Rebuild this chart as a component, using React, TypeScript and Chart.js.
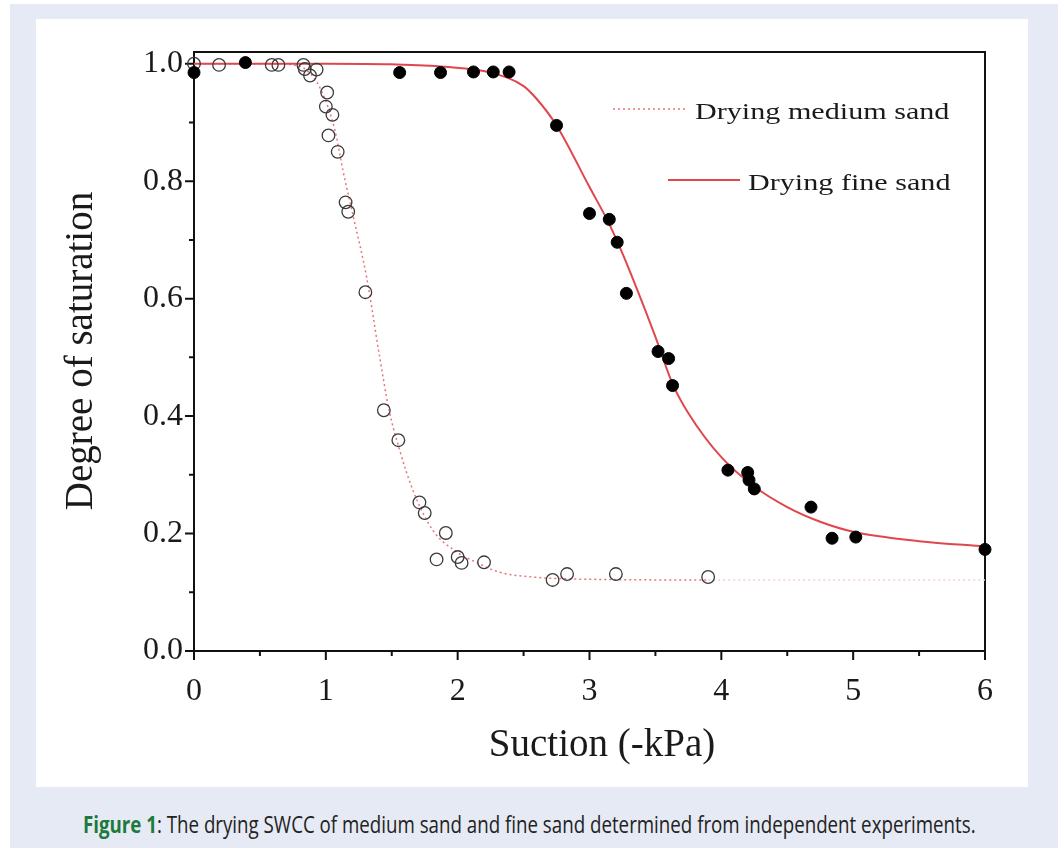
import React, { useEffect, useRef } from "react";
import { Chart, registerables } from "chart.js";

Chart.register(...registerables);

// Drying medium sand: measured points (suction in -kPa, degree of saturation)
const mediumSuction = [0, 0.19, 0.59, 0.64, 0.83, 0.84, 0.88, 0.93, 1.01, 1.0, 1.05, 1.02, 1.09, 1.15, 1.17, 1.3, 1.44, 1.55, 1.71, 1.75, 1.91, 1.84, 2.0, 2.03, 2.2, 2.72, 2.83, 3.2, 3.9];
const mediumSaturation = [1.0, 0.998, 0.998, 0.998, 0.998, 0.991, 0.98, 0.99, 0.951, 0.927, 0.913, 0.878, 0.85, 0.764, 0.748, 0.611, 0.41, 0.359, 0.253, 0.235, 0.201, 0.156, 0.16, 0.15, 0.151, 0.121, 0.131, 0.131, 0.126];

// Drying medium sand: fitted curve
const mediumFitSuction = [0, 0.6, 0.75, 0.85, 0.96, 1.07, 1.13, 1.21, 1.31, 1.4, 1.48, 1.56, 1.66, 1.81, 1.97, 2.15, 2.32, 2.57, 3.03, 3.9, 6.0];
const mediumFitSaturation = [1.0, 1.0, 0.998, 0.99, 0.957, 0.886, 0.818, 0.738, 0.636, 0.512, 0.41, 0.342, 0.274, 0.206, 0.172, 0.15, 0.134, 0.126, 0.122, 0.121, 0.121];

// Drying fine sand: measured points
const fineSuction = [0, 0.39, 1.56, 1.87, 2.12, 2.27, 2.39, 2.75, 3.0, 3.15, 3.21, 3.28, 3.52, 3.6, 3.63, 4.05, 4.2, 4.21, 4.25, 4.68, 4.84, 5.02, 6.0];
const fineSaturation = [0.985, 1.002, 0.985, 0.985, 0.986, 0.986, 0.986, 0.895, 0.745, 0.735, 0.696, 0.609, 0.51, 0.498, 0.452, 0.308, 0.304, 0.291, 0.276, 0.245, 0.192, 0.194, 0.173];

// Drying fine sand: fitted curve
const fineFitSuction = [0, 1.0, 1.5, 1.9, 2.25, 2.5, 2.6, 2.75, 3.0, 3.15, 3.25, 3.5, 3.63, 3.75, 4.0, 4.25, 4.5, 4.75, 5.0, 5.5, 6.0];
const fineFitSaturation = [1.0, 1.0, 0.999, 0.995, 0.985, 0.962, 0.94, 0.895, 0.79, 0.727, 0.677, 0.535, 0.455, 0.405, 0.33, 0.28, 0.245, 0.22, 0.203, 0.187, 0.178];

const xTicks = [0, 1, 2, 3, 4, 5, 6];
const xMinorTicks = [0.5, 1.5, 2.5, 3.5, 4.5, 5.5];
const yTicks = [0, 0.2, 0.4, 0.6, 0.8, 1.0];
const yMinorTicks = [0.1, 0.3, 0.5, 0.7, 0.9];

const legendLabels = ["Drying medium sand", "Drying fine sand"];
const xTitle = "Suction (-kPa)";
const yTitle = "Degree of saturation";
const captionLead = "Figure 1";
const captionRest = ": The drying SWCC of medium sand and fine sand determined from independent experiments.";

const SERIF = "'Liberation Serif', 'Times New Roman', serif";
const FIT_RED = "#e0474d";
const MEDIUM_PINK = "#e8747d";
const MEDIUM_TAIL = "#f1d2d5";

const zip = (xs: number[], ys: number[]) => xs.map((x, i) => ({ x, y: ys[i] }));

// Frame, tick marks, axis titles and the in-plot legend
const decorPlugin = {
  id: "decor",
  beforeDatasetsDraw(chart: any) {
    const { ctx, chartArea: a, scales } = chart;
    const x = scales.x;
    const y = scales.y;
    ctx.save();
    ctx.strokeStyle = "#111";
    ctx.lineWidth = 2;
    ctx.strokeRect(a.left, a.top, a.right - a.left, a.bottom - a.top);
    ctx.beginPath();
    xTicks.forEach((v) => {
      const px = x.getPixelForValue(v);
      ctx.moveTo(px, a.bottom);
      ctx.lineTo(px, a.bottom + 9);
    });
    xMinorTicks.forEach((v) => {
      const px = x.getPixelForValue(v);
      ctx.moveTo(px, a.bottom);
      ctx.lineTo(px, a.bottom + 5);
    });
    yTicks.forEach((v) => {
      const py = y.getPixelForValue(v);
      ctx.moveTo(a.left, py);
      ctx.lineTo(a.left - 9, py);
    });
    yMinorTicks.forEach((v) => {
      const py = y.getPixelForValue(v);
      ctx.moveTo(a.left, py);
      ctx.lineTo(a.left - 5, py);
    });
    ctx.stroke();
    ctx.restore();
  },
  afterDraw(chart: any) {
    const { ctx } = chart;
    ctx.save();
    ctx.fillStyle = "#1a1a1a";
    ctx.font = `39px ${SERIF}`;
    ctx.textAlign = "center";
    ctx.textBaseline = "middle";
    ctx.fillText(xTitle, 566, 727);
    ctx.save();
    ctx.translate(46, 332);
    ctx.rotate(-Math.PI / 2);
    ctx.fillText(yTitle, 0, 0);
    ctx.restore();

    // legend samples
    ctx.lineWidth = 1.5;
    ctx.strokeStyle = MEDIUM_PINK;
    ctx.setLineDash([2, 3]);
    ctx.beginPath();
    ctx.moveTo(577, 90);
    ctx.lineTo(652, 90);
    ctx.stroke();
    ctx.setLineDash([]);
    ctx.lineWidth = 2;
    ctx.strokeStyle = FIT_RED;
    ctx.beginPath();
    ctx.moveTo(632, 161);
    ctx.lineTo(704, 161);
    ctx.stroke();

    // legend labels, set in a wide serif face
    ctx.font = `23px ${SERIF}`;
    ctx.textAlign = "left";
    ctx.textBaseline = "alphabetic";
    const rows = [
      { text: legendLabels[0], x: 659, y: 100 },
      { text: legendLabels[1], x: 712, y: 171 },
    ];
    rows.forEach((r) => {
      ctx.save();
      ctx.translate(r.x, r.y);
      ctx.scale(1.31, 1);
      ctx.fillText(r.text, 0, 0);
      ctx.restore();
    });
    ctx.restore();
  },
};

export default function App() {
  const canvasRef = useRef<HTMLCanvasElement>(null);
  const captionRef = useRef<HTMLSpanElement>(null);

  useEffect(() => {
    const chart = new Chart(canvasRef.current as HTMLCanvasElement, {
      type: "scatter",
      data: {
        datasets: [
          {
            label: "Fine sand",
            data: zip(fineSuction, fineSaturation),
            showLine: false,
            pointRadius: 6,
            pointBackgroundColor: "#000",
            pointBorderColor: "#000",
            pointBorderWidth: 1,
            clip: false,
            order: 0,
          },
          {
            label: "Medium sand",
            data: zip(mediumSuction, mediumSaturation),
            showLine: false,
            pointRadius: 6.3,
            pointBackgroundColor: "rgba(255,255,255,0)",
            pointBorderColor: "#3a3a3a",
            pointBorderWidth: 1.3,
            clip: false,
            order: 1,
          },
          {
            label: legendLabels[1],
            data: zip(fineFitSuction, fineFitSaturation),
            showLine: true,
            pointRadius: 0,
            borderColor: FIT_RED,
            borderWidth: 2,
            cubicInterpolationMode: "monotone",
            clip: false,
            order: 2,
          },
          {
            label: legendLabels[0],
            data: zip(mediumFitSuction, mediumFitSaturation),
            showLine: true,
            pointRadius: 0,
            borderColor: MEDIUM_PINK,
            borderWidth: 1.5,
            borderDash: [2, 3],
            cubicInterpolationMode: "monotone",
            segment: {
              borderColor: (c: any) => (c.p0.parsed.x >= 3.9 ? MEDIUM_TAIL : MEDIUM_PINK),
            },
            clip: false,
            order: 3,
          },
        ] as any,
      },
      options: {
        animation: false,
        responsive: false,
        events: [],
        layout: { padding: { left: 0, top: 33, right: 43, bottom: 0 } },
        plugins: { legend: { display: false }, tooltip: { enabled: false } },
        scales: {
          x: {
            type: "linear",
            min: 0,
            max: 6,
            afterFit: (s: any) => {
              s.height = 136;
            },
            afterBuildTicks: (s: any) => {
              s.ticks = xTicks.map((v) => ({ value: v }));
            },
            grid: { display: false, drawTicks: false },
            border: { display: false },
            ticks: {
              padding: 21,
              color: "#1a1a1a",
              font: { family: SERIF, size: 32 },
              autoSkip: false,
              maxRotation: 0,
              callback: (v: any) => String(v),
            },
          },
          y: {
            type: "linear",
            min: 0,
            max: 1.02,
            afterFit: (s: any) => {
              s.width = 158;
            },
            afterBuildTicks: (s: any) => {
              s.ticks = yTicks.map((v) => ({ value: v }));
            },
            grid: { display: false, drawTicks: false },
            border: { display: false },
            ticks: {
              padding: 11,
              color: "#1a1a1a",
              font: { family: SERIF, size: 32 },
              autoSkip: false,
              callback: (v: any) => Number(v).toFixed(1),
            },
          },
        },
      } as any,
      plugins: [decorPlugin],
    });
    return () => chart.destroy();
  }, []);

  useEffect(() => {
    const fit = () => {
      const el = captionRef.current;
      if (!el) return;
      el.style.transform = "none";
      const w = el.offsetWidth;
      if (w > 0) el.style.transform = `scaleX(${893 / w})`;
    };
    fit();
    if ((document as any).fonts) (document as any).fonts.ready.then(fit);
  }, []);

  return (
    <div style={{ position: "absolute", left: 0, top: 0, width: 1058, height: 848, background: "#ffffff", overflow: "hidden" }}>
      <div style={{ position: "absolute", left: 10, top: 4, width: 1048, height: 844, background: "#e6eaf5" }} />
      <div style={{ position: "absolute", left: 36, top: 19, width: 992, height: 768, background: "#ffffff" }}>
        <canvas ref={canvasRef} width={992} height={768} style={{ display: "block", width: 992, height: 768 }} />
      </div>
      <div
        style={{
          position: "absolute",
          left: -471,
          top: 812,
          width: 2000,
          textAlign: "center",
          fontFamily: "'Open Sans', sans-serif",
          fontSize: 24,
          lineHeight: "24px",
          color: "#222",
          whiteSpace: "nowrap",
        }}
      >
        <span ref={captionRef} style={{ display: "inline-block", transformOrigin: "center" }}>
          <span style={{ color: "#1b7a3c", fontWeight: 700 }}>{captionLead}</span>
          {captionRest}
        </span>
      </div>
    </div>
  );
}
